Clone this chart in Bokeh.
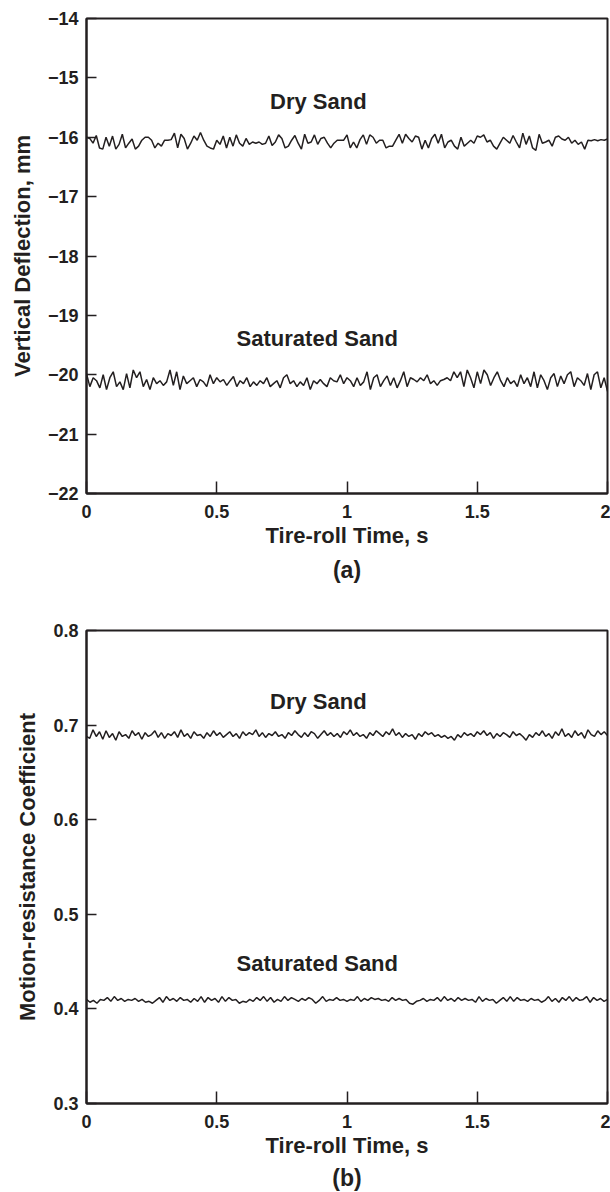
import numpy as np
from bokeh.plotting import figure
from bokeh.layouts import column
from bokeh.models import FixedTicker, Label, Title
from bokeh.embed import file_html
from bokeh.resources import INLINE

# ---------------- data ----------------
dry_a = [-16.00,-16.02,-16.10,-15.97,-16.18,-16.20,-16.00,-16.15,-15.98,-16.20,-16.12,-15.95,-16.18,-16.10,-16.03,-16.20,-16.15,-16.05,-16.00,-16.00,-16.05,-16.18,-16.10,-16.15,-16.05,-16.05,-16.04,-15.93,-16.18,-15.95,-16.02,-16.20,-16.10,-15.98,-16.05,-15.92,-16.05,-16.15,-16.18,-16.20,-16.05,-16.12,-15.98,-16.18,-16.00,-16.15,-15.96,-16.10,-16.15,-16.02,-16.12,-16.08,-16.10,-16.08,-16.12,-16.10,-15.98,-16.14,-16.08,-15.96,-16.02,-16.18,-16.15,-16.05,-15.97,-16.10,-16.20,-15.95,-16.10,-16.08,-15.96,-16.12,-16.02,-16.00,-16.10,-16.18,-16.10,-16.05,-16.05,-16.05,-15.96,-16.18,-16.08,-16.18,-16.04,-15.96,-16.12,-15.96,-16.00,-16.10,-16.05,-16.05,-16.18,-16.15,-16.15,-16.05,-15.95,-16.10,-15.95,-16.02,-16.08,-15.98,-16.00,-16.20,-16.05,-16.18,-16.02,-15.95,-16.10,-15.95,-16.18,-16.08,-16.05,-16.15,-16.20,-16.00,-16.15,-16.10,-16.05,-16.10,-15.98,-16.00,-15.96,-16.08,-16.05,-16.15,-16.20,-16.10,-16.00,-16.05,-16.10,-15.97,-16.08,-16.18,-15.93,-16.12,-15.98,-16.18,-16.22,-15.95,-16.10,-16.08,-16.05,-16.15,-16.00,-15.98,-16.03,-16.05,-16.00,-16.10,-16.05,-16.12,-16.08,-16.20,-16.05,-16.06,-16.04,-16.06,-16.04,-16.05,-16.03]
sat_a = [-19.98,-20.20,-20.05,-20.10,-20.22,-20.00,-20.25,-20.05,-19.95,-20.20,-20.12,-20.25,-19.98,-20.22,-19.92,-20.05,-19.95,-20.20,-20.08,-20.25,-20.05,-20.15,-20.10,-20.18,-20.12,-19.92,-20.18,-19.95,-20.25,-20.02,-20.15,-20.10,-20.05,-20.20,-20.08,-20.12,-20.20,-20.00,-20.15,-20.05,-20.12,-20.08,-20.18,-20.10,-20.03,-20.20,-20.10,-20.15,-20.05,-20.20,-20.12,-20.18,-20.10,-20.15,-20.05,-20.20,-20.15,-20.10,-20.22,-20.05,-20.00,-20.15,-20.10,-20.20,-20.12,-20.18,-20.05,-20.25,-20.10,-20.15,-20.08,-20.15,-20.20,-20.05,-20.10,-20.12,-20.00,-20.15,-20.05,-20.10,-20.20,-20.05,-20.18,-20.12,-19.95,-20.25,-20.05,-20.00,-20.20,-20.10,-20.02,-20.18,-20.05,-20.22,-20.10,-19.95,-20.20,-20.05,-20.08,-20.12,-20.05,-20.10,-20.00,-20.15,-20.10,-20.18,-20.10,-20.08,-20.05,-20.10,-19.95,-20.05,-19.95,-20.20,-19.92,-20.05,-20.22,-19.95,-20.15,-19.92,-20.00,-20.18,-20.05,-19.95,-20.10,-20.20,-20.05,-20.15,-20.10,-20.20,-20.00,-20.15,-20.05,-20.20,-19.95,-20.22,-20.00,-20.10,-20.25,-20.05,-19.98,-20.20,-20.02,-20.15,-20.00,-19.95,-20.20,-20.05,-20.10,-20.18,-19.98,-20.25,-20.00,-19.95,-20.22,-20.05,-20.28]
dry_b = [0.688,0.686,0.695,0.688,0.693,0.685,0.694,0.687,0.691,0.684,0.693,0.688,0.690,0.686,0.694,0.689,0.692,0.685,0.692,0.688,0.690,0.694,0.687,0.692,0.686,0.691,0.689,0.693,0.687,0.695,0.688,0.691,0.686,0.693,0.689,0.690,0.686,0.692,0.688,0.694,0.689,0.692,0.687,0.690,0.693,0.688,0.691,0.686,0.693,0.689,0.692,0.690,0.695,0.688,0.692,0.687,0.691,0.689,0.693,0.688,0.690,0.686,0.692,0.689,0.694,0.690,0.687,0.692,0.688,0.693,0.691,0.686,0.690,0.694,0.689,0.692,0.688,0.691,0.687,0.693,0.690,0.695,0.689,0.692,0.688,0.690,0.686,0.692,0.689,0.694,0.691,0.688,0.693,0.690,0.696,0.689,0.692,0.687,0.691,0.688,0.690,0.685,0.691,0.688,0.693,0.690,0.692,0.688,0.690,0.687,0.689,0.686,0.688,0.684,0.690,0.687,0.692,0.689,0.691,0.688,0.693,0.690,0.694,0.689,0.692,0.686,0.691,0.688,0.692,0.690,0.687,0.693,0.689,0.691,0.688,0.684,0.690,0.687,0.692,0.689,0.694,0.688,0.691,0.686,0.693,0.689,0.696,0.688,0.691,0.687,0.694,0.689,0.692,0.686,0.695,0.690,0.688,0.694,0.690,0.693,0.689]
sat_b = [0.410,0.407,0.409,0.406,0.410,0.409,0.412,0.408,0.413,0.409,0.411,0.408,0.410,0.409,0.411,0.408,0.410,0.407,0.408,0.406,0.409,0.412,0.407,0.413,0.409,0.411,0.408,0.412,0.409,0.410,0.407,0.411,0.408,0.413,0.407,0.412,0.409,0.411,0.407,0.413,0.408,0.412,0.409,0.410,0.406,0.408,0.407,0.410,0.408,0.412,0.409,0.413,0.408,0.412,0.407,0.410,0.408,0.413,0.409,0.412,0.410,0.408,0.411,0.409,0.412,0.410,0.406,0.409,0.413,0.408,0.410,0.409,0.412,0.409,0.410,0.408,0.410,0.409,0.413,0.408,0.411,0.409,0.412,0.410,0.411,0.409,0.410,0.408,0.412,0.409,0.411,0.409,0.410,0.406,0.405,0.408,0.409,0.411,0.408,0.410,0.409,0.412,0.408,0.413,0.409,0.411,0.408,0.412,0.409,0.411,0.409,0.410,0.407,0.413,0.408,0.411,0.409,0.410,0.406,0.409,0.412,0.408,0.413,0.408,0.412,0.409,0.410,0.408,0.411,0.409,0.410,0.407,0.409,0.413,0.408,0.411,0.407,0.412,0.409,0.413,0.408,0.412,0.409,0.410,0.413,0.407,0.412,0.409,0.411,0.408,0.410]

x_ticks = [0, 0.5, 1, 1.5, 2]
x_tick_labels = ["0", "0.5", "1", "1.5", "2"]
y_ticks_a = [-22, -21, -20, -19, -18, -17, -16, -15, -14]
y_tick_labels_a = ["\u221222", "\u221221", "\u221220", "\u221219", "\u221218", "\u221217", "\u221216", "\u221215", "\u221214"]
y_ticks_b = [0.3, 0.4, 0.5, 0.6, 0.7, 0.8]
y_tick_labels_b = ["0.3", "0.4", "0.5", "0.6", "0.7", "0.8"]

FONT = "Liberation Sans"
INK = "#231f20"


def make_panel(height, top, bottom, yr, yticks, ylabels, ylab, tag, tag_standoff):
    p = figure(width=610, height=height, x_range=(0, 2), y_range=yr,
               output_backend="svg", toolbar_location=None,
               min_border_left=86, min_border_right=3,
               min_border_top=top, min_border_bottom=bottom)
    p.grid.visible = False
    p.outline_line_color = INK
    p.outline_line_width = 2
    p.outline_line_alpha = 1
    p.background_fill_color = "white"
    p.border_fill_color = "white"
    for ax in (p.xaxis[0], p.yaxis[0]):
        ax.axis_line_color = INK
        ax.axis_line_width = 2
        ax.major_tick_line_color = INK
        ax.major_tick_line_width = 1.5
        ax.major_tick_out = 0
        ax.minor_tick_line_color = None
        ax.major_label_text_font = FONT
        ax.major_label_text_font_style = "bold"
        ax.major_label_text_font_size = "18px"
        ax.major_label_text_color = INK
        ax.axis_label_text_font = FONT
        ax.axis_label_text_font_style = "bold"
        ax.axis_label_text_font_size = "22px"
        ax.axis_label_text_color = INK
    p.xaxis.ticker = FixedTicker(ticks=x_ticks)
    p.xaxis.major_label_overrides = dict(zip(x_ticks, x_tick_labels))
    p.xaxis.major_tick_in = 12
    p.xaxis.major_label_standoff = 11
    p.xaxis.axis_label = "Tire-roll Time, s"
    p.xaxis.axis_label_standoff = 2
    p.yaxis.ticker = FixedTicker(ticks=yticks)
    p.yaxis.major_label_overrides = dict(zip(yticks, ylabels))
    p.yaxis.major_tick_in = 10
    p.yaxis.major_label_standoff = 8
    p.yaxis.axis_label = ylab
    p.yaxis.axis_label_standoff = 10
    p.add_layout(Title(text=tag, align="center", text_font=FONT,
                       text_font_size="23px", text_font_style="bold",
                       text_color=INK, standoff=tag_standoff), "below")
    return p


def add_text(p, txt, lx, ly):
    p.add_layout(Label(x=lx, y=ly, text=txt, text_font=FONT, text_font_style="bold",
                       text_font_size="22px", text_color=INK,
                       text_align="center", text_baseline="middle"))


pa = make_panel(610, 18, 117, (-22, -14), y_ticks_a, y_tick_labels_a,
                "Vertical Deflection, mm", "(a)", 9)
pa.line(np.linspace(0, 2, len(dry_a)), dry_a, line_color=INK, line_width=1.5)
pa.line(np.linspace(0, 2, len(sat_a)), sat_a, line_color=INK, line_width=1.5)
add_text(pa, "Dry Sand", 0.89, -15.39)
add_text(pa, "Saturated Sand", 0.886, -19.39)

pb = make_panel(582, 20, 87, (0.3, 0.8), y_ticks_b, y_tick_labels_b,
                "Motion-resistance Coefficient", "(b)", 4)
pb.line(np.linspace(0, 2, len(dry_b)), dry_b, line_color=INK, line_width=1.5)
pb.line(np.linspace(0, 2, len(sat_b)), sat_b, line_color=INK, line_width=1.5)
add_text(pb, "Dry Sand", 0.89, 0.725)
add_text(pb, "Saturated Sand", 0.886, 0.448)

layout = column(pa, pb, spacing=0)
open("out.html", "w").write(file_html(layout, INLINE))
